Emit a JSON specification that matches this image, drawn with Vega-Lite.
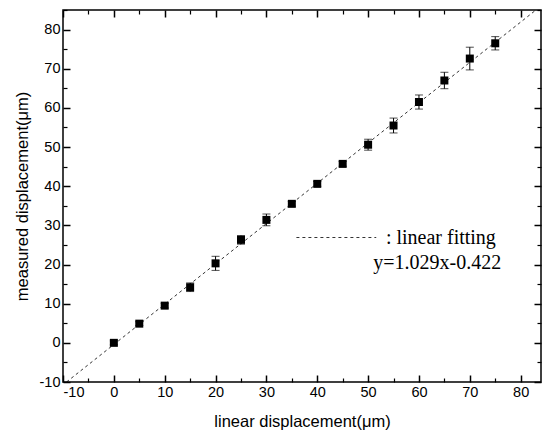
{
  "$schema": "https://vega.github.io/schema/vega-lite/v6.json",
  "autosize": "none",
  "width": 478,
  "height": 372,
  "padding": {"left": 63, "top": 10, "right": 5, "bottom": 52},
  "background": "white",
  "config": {
    "view": {"stroke": "black", "strokeWidth": 1.5},
    "axis": {"grid": false, "domain": false, "tickColor": "black", "labelColor": "black", "titleColor": "black", "labelFont": "Liberation Sans", "titleFont": "Liberation Sans", "labelFontSize": 14.5, "titleFontSize": 16.5, "titleFontWeight": "normal", "labelExpr": "replace(datum.label, '−', '-')"}
  },
  "datasets": {
    "pts": [
      {"x": 0, "y": 0.0, "e": 0.5},
      {"x": 5, "y": 4.9, "e": 0.5},
      {"x": 10, "y": 9.5, "e": 0.6},
      {"x": 15, "y": 14.2, "e": 1.1},
      {"x": 20, "y": 20.3, "e": 1.8},
      {"x": 25, "y": 26.3, "e": 1.1},
      {"x": 30, "y": 31.4, "e": 1.5},
      {"x": 35, "y": 35.5, "e": 0.6},
      {"x": 40, "y": 40.6, "e": 0.6},
      {"x": 45, "y": 45.7, "e": 0.6},
      {"x": 50, "y": 50.6, "e": 1.4},
      {"x": 55, "y": 55.5, "e": 1.9},
      {"x": 60, "y": 61.5, "e": 1.8},
      {"x": 65, "y": 67.0, "e": 2.1},
      {"x": 70, "y": 72.6, "e": 2.9},
      {"x": 75, "y": 76.5, "e": 1.7}
    ],
    "err": [
      {"x": 0, "lo": -0.5, "hi": 0.5},
      {"x": 5, "lo": 4.4, "hi": 5.4},
      {"x": 10, "lo": 8.9, "hi": 10.1},
      {"x": 15, "lo": 13.1, "hi": 15.3},
      {"x": 20, "lo": 18.5, "hi": 22.1},
      {"x": 25, "lo": 25.2, "hi": 27.4},
      {"x": 30, "lo": 29.9, "hi": 32.9},
      {"x": 35, "lo": 34.9, "hi": 36.1},
      {"x": 40, "lo": 40.0, "hi": 41.2},
      {"x": 45, "lo": 45.1, "hi": 46.3},
      {"x": 50, "lo": 49.2, "hi": 52.0},
      {"x": 55, "lo": 53.6, "hi": 57.4},
      {"x": 60, "lo": 59.7, "hi": 63.3},
      {"x": 65, "lo": 64.9, "hi": 69.1},
      {"x": 70, "lo": 69.7, "hi": 75.5},
      {"x": 75, "lo": 74.8, "hi": 78.2}
    ],
    "fit": [
      {"x": -9.31, "y": -10.0},
      {"x": 83.0, "y": 85.0}
    ],
    "leg": [
      {"x": 35.9, "y": 26.9},
      {"x": 51.6, "y": 26.9}
    ],
    "txt": [
      {"x": 53.5, "y": 26.9, "t": ": linear fitting"},
      {"x": 51.0, "y": 20.5, "t": "y=1.029x-0.422"}
    ]
  },
  "layer": [
    {
      "data": {"name": "fit"},
      "mark": {"type": "line", "color": "black", "strokeWidth": 0.8, "strokeDash": [3, 3], "clip": true},
      "encoding": {
        "x": {"field": "x", "type": "quantitative", "scale": {"domain": [-10, 84], "nice": false, "zero": false},
              "axis": {"orient": "bottom", "values": [-10, 0, 10, 20, 30, 40, 50, 60, 70, 80], "tickSize": -7, "tickWidth": 1.5, "labelPadding": 10, "title": "linear displacement(μm)", "titlePadding": 15}},
        "y": {"field": "y", "type": "quantitative", "scale": {"domain": [-10, 85], "nice": false, "zero": false},
              "axis": {"orient": "left", "values": [-10, 0, 10, 20, 30, 40, 50, 60, 70, 80], "tickSize": -7, "tickWidth": 1.5, "labelPadding": 10, "title": "measured displacement(μm)", "titlePadding": 9}}
      }
    },
    {
      "data": {"name": "err"},
      "mark": {"type": "errorbar", "ticks": {"size": 8, "color": "black"}, "rule": {"color": "black", "strokeWidth": 1}},
      "encoding": {
        "x": {"field": "x", "type": "quantitative",
              "axis": {"orient": "bottom", "values": [-5, 5, 15, 25, 35, 45, 55, 65, 75], "tickSize": -4, "tickWidth": 1.2, "labels": false, "title": null}},
        "y": {"field": "lo", "type": "quantitative",
              "axis": {"orient": "left", "values": [-5, 5, 15, 25, 35, 45, 55, 65, 75, 85], "tickSize": -4, "tickWidth": 1.2, "labels": false, "title": null}},
        "y2": {"field": "hi"}
      }
    },
    {
      "data": {"name": "pts"},
      "mark": {"type": "point", "shape": "square", "filled": true, "color": "black", "size": 64, "opacity": 1},
      "encoding": {
        "x": {"field": "x", "type": "quantitative",
              "axis": {"orient": "top", "values": [-10, 0, 10, 20, 30, 40, 50, 60, 70, 80], "tickSize": -7, "tickWidth": 1.5, "labels": false, "title": null}},
        "y": {"field": "y", "type": "quantitative",
              "axis": {"orient": "right", "values": [-10, 0, 10, 20, 30, 40, 50, 60, 70, 80], "tickSize": -7, "tickWidth": 1.5, "labels": false, "title": null}}
      }
    },
    {
      "data": {"name": "leg"},
      "mark": {"type": "line", "color": "black", "strokeWidth": 0.8, "strokeDash": [3, 3]},
      "encoding": {
        "x": {"field": "x", "type": "quantitative",
              "axis": {"orient": "top", "values": [-5, 5, 15, 25, 35, 45, 55, 65, 75], "tickSize": -4, "tickWidth": 1.2, "labels": false, "title": null}},
        "y": {"field": "y", "type": "quantitative",
              "axis": {"orient": "right", "values": [-5, 5, 15, 25, 35, 45, 55, 65, 75, 85], "tickSize": -4, "tickWidth": 1.2, "labels": false, "title": null}}
      }
    },
    {
      "data": {"name": "txt"},
      "mark": {"type": "text", "align": "left", "baseline": "middle", "font": "Liberation Serif", "fontSize": 20, "color": "black"},
      "encoding": {
        "x": {"field": "x", "type": "quantitative", "axis": null},
        "y": {"field": "y", "type": "quantitative", "axis": null},
        "text": {"field": "t"}
      }
    }
  ],
  "resolve": {"axis": {"x": "independent", "y": "independent"}}
}
